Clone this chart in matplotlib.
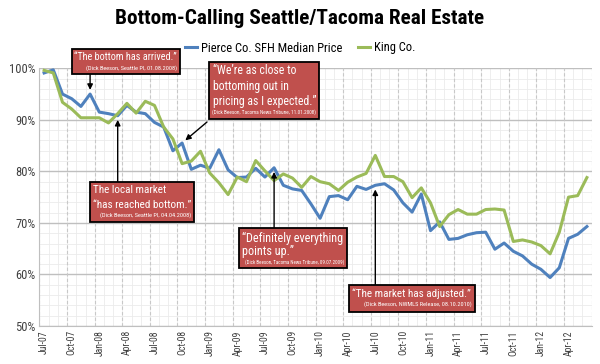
import numpy as np
import matplotlib
matplotlib.use("Agg")
import matplotlib.pyplot as plt
from matplotlib import font_manager
from matplotlib.patches import Rectangle

# monthly index values (% of peak), Jul-07 .. Jun-12
pierce = [99.1, 99.7, 95.0, 94.1, 92.6, 95.0, 91.5, 91.2, 90.8, 92.8,
          91.5, 91.2, 89.5, 88.6, 84.0, 85.5, 80.4, 81.2, 80.6, 84.2,
          80.3, 78.8, 78.9, 80.6, 78.9, 80.7, 77.3, 76.6, 76.3, 73.7,
          70.9, 75.1, 75.3, 74.5, 77.1, 76.5, 77.3, 77.6, 76.4, 73.9,
          72.1, 75.6, 68.5, 70.2, 66.8, 67.0, 67.7, 68.1, 68.2, 64.9,
          66.1, 64.5, 63.6, 62.0, 61.0, 59.4, 61.3, 67.0, 67.8, 69.3]
king = [99.6, 99.1, 93.4, 92.1, 90.4, 90.4, 90.4, 89.4, 91.2, 93.2,
        91.3, 93.6, 92.8, 88.6, 86.3, 81.5, 82.0, 83.9, 79.7, 77.8,
        75.5, 78.9, 78.0, 82.1, 80.1, 78.2, 79.5, 78.7, 76.9, 79.0,
        78.0, 77.6, 76.3, 77.9, 78.9, 79.6, 83.1, 79.0, 79.0, 78.0,
        74.9, 76.8, 73.9, 69.3, 71.6, 72.6, 71.7, 71.7, 72.6, 72.7,
        72.5, 66.4, 66.7, 66.3, 65.6, 64.0, 68.2, 75.0, 75.3, 78.8]
tick_labels = ["Jul-07", "Oct-07", "Jan-08", "Apr-08", "Jul-08", "Oct-08",
               "Jan-09", "Apr-09", "Jul-09", "Oct-09", "Jan-10", "Apr-10",
               "Jul-10", "Oct-10", "Jan-11", "Apr-11", "Jul-11", "Oct-11",
               "Jan-12", "Apr-12"]
y_ticks = [50, 60, 70, 80, 90, 100]

# quotes: (text lines, citation, month index the arrow points at)
quotes = [
    (["\u201cThe bottom has arrived.\u201d"], "(Dick Beeson, Seattle PI, 01.08.2008)", 5),
    (["\u201cWe\u2019re as close to", "bottoming out in", "pricing as I expected.\u201d"],
     "(Dick Beeson, Tacoma News Tribune, 11.01.2008)", 15),
    (["The local market", "\u201chas reached bottom.\u201d"], "(Dick Beeson, Seattle PI, 04.04.2008)", 8),
    (["\u201cDefinitely everything", "points up.\u201d"], "(Dick Beeson, Tacoma News Tribune, 09.07.2009)", 25),
    (["\u201cThe market has adjusted.\u201d"], "(Dick Beeson, NWMLS Release, 08.10.2010)", 36),
]

# pick the narrowest installed family
fonts = font_manager.fontManager.ttflist
names = {f.name for f in fonts}
cond, stretch = "Liberation Sans", "normal"
for n in ["Liberation Sans Narrow", "Roboto Condensed", "DejaVu Sans Condensed",
          "Open Sans Condensed", "Noto Sans Condensed"]:
    if n in names:
        cond = n
        break
else:
    narrow = [f for f in fonts if f.stretch in ("condensed", "semi-condensed", "extra-condensed")]
    if narrow:
        cond, stretch = narrow[0].name, narrow[0].stretch
plt.rcParams["font.family"] = cond
plt.rcParams["font.stretch"] = stretch

W, H = 600, 364
def fx(x):
    return x / W
def fy(y):
    return 1 - y / H

blue = "#4F81BD"
green = "#9BBB59"
red = "#C0504D"
grey = "#404040"

fig = plt.figure(figsize=(6, 3.64), dpi=100)
ax = fig.add_axes([fx(39.5), fy(326), (591.5 - 39.5) / W, (326 - 68.3) / H])

x = np.arange(len(pierce))
ax.plot(x, pierce, color=blue, lw=2.2, label="Pierce Co. SFH Median Price", zorder=3)
ax.plot(x, king, color=green, lw=2.2, label="King Co.", zorder=3)

ax.set_xlim(-0.5, len(pierce) - 0.5)
ax.set_ylim(50, 100)

# gridlines
ax.set_yticks(y_ticks)
ax.set_yticklabels([f"{v}%" for v in y_ticks], fontsize=9, color=grey)
ax.set_yticks(np.arange(50, 101, 2), minor=True)
ax.set_xticks(x[::3])
ax.set_xticklabels(tick_labels, rotation=90, fontsize=7, color=grey)
ax.set_xticks(np.arange(-0.5, len(pierce), 1), minor=True)
ax.grid(which="major", axis="y", color="#bfbfbf", lw=1)
ax.grid(which="minor", color="#ebebeb", lw=0.6)
for b in np.arange(-0.5, len(pierce), 3):
    ax.axvline(b, color="#c8c8c8", lw=0.8, ls=(0, (3, 2)), zorder=1)
ax.set_axisbelow(True)
ax.tick_params(which="both", length=0, pad=3)
for s in ["top", "right"]:
    ax.spines[s].set_visible(False)
for s in ["left", "bottom"]:
    ax.spines[s].set_color("#bfbfbf")

title = fig.text(0.5, fy(19), "Bottom-Calling Seattle/Tacoma Real Estate", ha="center", va="center",
                 fontsize=20, fontweight="bold", color="black")
fig.legend(loc="center", bbox_to_anchor=(fx(300), fy(48)), ncol=2, frameon=False,
           prop={"size": 9}, handlelength=1.0, handletextpad=0.3, columnspacing=1.2)

# box rectangles (px), text anchor (px), citation anchor (px)
boxes = [(71.7, 49.3, 180, 74.3), (209.3, 61.7, 319.3, 119.3), (90, 181.7, 194.3, 222.3),
         (239.3, 228.3, 346.7, 268.3), (349.3, 285, 475, 311.7)]
text_pos = [(74, [57]), (213, [71, 86.5, 101.5]), (93, [190, 205]),
            (242.5, [238.5, 252]), (352.5, [293.5])]
cite_pos = [(177, 68.5), (316, 112.5), (191, 215), (344, 262), (472, 304)]

box_texts = []
for (lines, cite, idx), (x0, y0, x1, y1), (tx, tys), (cx, cy) in zip(quotes, boxes, text_pos, cite_pos):
    fig.add_artist(Rectangle((fx(x0), fy(y1)), (x1 - x0) / W, (y1 - y0) / H,
                             transform=fig.transFigure, fc=red, ec="black", lw=1.3, zorder=5))
    ts = [fig.text(fx(tx), fy(ty), s, ha="left", va="center", color="white",
                   fontsize=11, zorder=6) for s, ty in zip(lines, tys)]
    c = fig.text(fx(cx), fy(cy), cite, ha="right", va="center", color="white",
                 fontsize=4.5, zorder=6)
    box_texts.append((ts, c, x1 - x0))
    if idx == 15:
        start, coords = (fx(207), fy(122)), "figure fraction"
    elif y0 > 150:
        start, coords = (idx, fy(y0)), ("data", "figure fraction")
    else:
        start, coords = (idx, fy(y1)), ("data", "figure fraction")
    ax.annotate("", xy=(idx, pierce[idx]), xytext=start, textcoords=coords,
                arrowprops=dict(arrowstyle="-|>", color="black", lw=1, shrinkA=0,
                                shrinkB=3, mutation_scale=8), zorder=4)

# shrink texts that are wider than the room the reference gives them
fig.canvas.draw()
r = fig.canvas.get_renderer()
def fit(items, maxw):
    w = max(t.get_window_extent(r).width for t in items)
    if w > maxw:
        for t in items:
            t.set_fontsize(t.get_fontsize() * maxw / w)
fit([title], 368)
for ts, c, bw in box_texts:
    fit(ts, bw - 7)
    fit([c], bw - 8)
fit(ax.get_xticklabels(), 27)

fig.savefig("out.png", dpi=100)
